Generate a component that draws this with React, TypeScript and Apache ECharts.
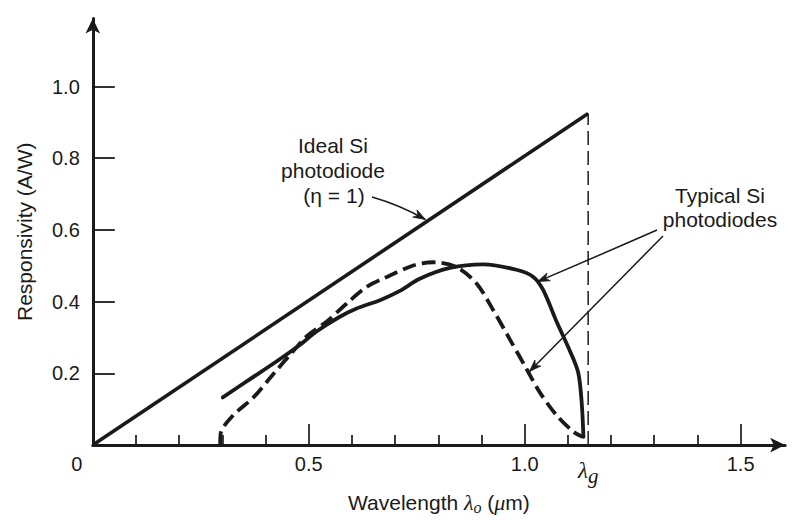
import React, { useEffect, useRef } from "react";
import * as echarts from "echarts";

// ---- data ----
const lambdaG = 1.147;
const idealX = [0, 1.147];
const idealY = [0, 0.925];

const solidX = [0.301, 0.364, 0.426, 0.48, 0.518, 0.572, 0.611, 0.665, 0.711, 0.757, 0.827, 0.904, 0.981, 1.02, 1.043, 1.074, 1.105, 1.124, 1.132, 1.136];
const solidY = [0.133, 0.184, 0.234, 0.28, 0.317, 0.358, 0.381, 0.404, 0.43, 0.464, 0.494, 0.504, 0.489, 0.469, 0.432, 0.344, 0.262, 0.202, 0.119, 0.023];

const dashX = [0.295, 0.296, 0.325, 0.372, 0.418, 0.464, 0.495, 0.542, 0.588, 0.634, 0.681, 0.742, 0.788, 0.843, 0.889, 0.927, 0.966, 1.005, 1.035, 1.074, 1.113, 1.134];
const dashY = [0.0, 0.032, 0.083, 0.133, 0.198, 0.262, 0.303, 0.345, 0.395, 0.441, 0.469, 0.501, 0.51, 0.496, 0.45, 0.377, 0.294, 0.211, 0.147, 0.083, 0.037, 0.023];

const xMinorTicks = [0.1, 0.2, 0.3, 0.4, 0.6, 0.7, 0.8, 0.9, 1.1, 1.2, 1.3, 1.4];
const xMajorTicks = [0.5, 1.0, 1.5];
const xLabelValues = [0, 0.5, 1.0, lambdaG, 1.5];
const yTickValues = [0.2, 0.4, 0.6, 0.8, 1.0];

const ink = "#1a1a1a";
const sans = '"Liberation Sans", Arial, sans-serif';
const serif = '"Liberation Serif", "Times New Roman", serif';

const zip = (xs: number[], ys: number[]) => xs.map((x, i) => [x, ys[i]]);

export default function App() {
  const ref = useRef<HTMLDivElement>(null);

  useEffect(() => {
    if (!ref.current) return;
    const chart = echarts.init(ref.current, null, { renderer: "svg" });

    const option: any = {
      animation: false,
      backgroundColor: "#ffffff",
      grid: { left: 92.8, top: 18.4, width: 692.3, bottom: 70, containLabel: false },
      xAxis: [
        {
          type: "value",
          min: 0,
          max: 1.603,
          position: "bottom",
          splitLine: { show: false },
          axisLine: {
            show: true,
            symbol: ["none", "arrow"],
            symbolSize: [11, 15],
            lineStyle: { color: ink, width: 3 },
          },
          axisTick: {
            show: true,
            inside: true,
            length: 10,
            customValues: xMinorTicks,
            lineStyle: { color: ink, width: 1.7 },
          },
          axisLabel: {
            customValues: xLabelValues,
            margin: 9,
            color: ink,
            fontFamily: sans,
            fontSize: 20,
            formatter: (v: number) => {
              if (Math.abs(v - lambdaG) < 1e-6) return "{l|λ}{g|g}";
              if (v === 0) return "{z|0}";
              return v.toFixed(1);
            },
            rich: {
              z: { fontFamily: sans, fontSize: 20, color: ink, padding: [0, 32, 0, 0] },
              l: { fontFamily: serif, fontStyle: "italic", fontSize: 23, color: ink },
              g: { fontFamily: serif, fontStyle: "italic", fontSize: 21, color: ink, padding: [11, 0, 0, 0] },
            },
          },
          name: "{a|Wavelength }{i|λ}{s|o}{a| (}{i|μ}{a|m)}",
          nameLocation: "middle",
          nameGap: 38,
          nameTextStyle: {
            rich: {
              a: { fontFamily: sans, fontSize: 21, color: ink },
              i: { fontFamily: serif, fontStyle: "italic", fontSize: 22, color: ink },
              s: { fontFamily: serif, fontStyle: "italic", fontSize: 16, color: ink, padding: [10, 0, 0, 0] },
            },
          },
        },
        {
          type: "value",
          min: 0,
          max: 1.603,
          position: "bottom",
          splitLine: { show: false },
          axisLine: { show: false },
          axisTick: {
            show: true,
            inside: true,
            length: 21,
            customValues: xMajorTicks,
            lineStyle: { color: ink, width: 1.7 },
          },
          axisLabel: { show: false },
        },
      ],
      yAxis: {
        type: "value",
        min: 0,
        max: 1.19,
        splitLine: { show: false },
        axisLine: {
          show: true,
          symbol: ["none", "arrow"],
          symbolSize: [11, 15],
          lineStyle: { color: ink, width: 3 },
        },
        axisTick: {
          show: true,
          inside: true,
          length: 22,
          customValues: yTickValues,
          lineStyle: { color: ink, width: 1.8 },
        },
        axisLabel: {
          customValues: yTickValues,
          margin: 13,
          color: ink,
          fontFamily: sans,
          fontSize: 20,
          formatter: (v: number) => v.toFixed(1),
        },
        name: "Responsivity (A/W)",
        nameLocation: "middle",
        nameGap: 58,
        nameTextStyle: { fontFamily: sans, fontSize: 21, color: ink },
      },
      series: [
        {
          name: "Ideal Si photodiode",
          type: "line",
          data: zip(idealX, idealY),
          symbol: "none",
          silent: true,
          lineStyle: { color: ink, width: 3.6 },
        },
        {
          name: "Typical Si photodiode (solid)",
          type: "line",
          data: zip(solidX, solidY),
          symbol: "none",
          smooth: 0.3,
          silent: true,
          lineStyle: { color: ink, width: 3.8, cap: "round" },
        },
        {
          name: "Typical Si photodiode (dashed)",
          type: "line",
          data: zip(dashX, dashY),
          symbol: "none",
          smooth: 0.3,
          silent: true,
          lineStyle: { color: ink, width: 3.8, type: [14, 6] },
        },
        {
          name: "lambda g",
          type: "line",
          data: [
            [lambdaG, 0],
            [lambdaG, idealY[1]],
          ],
          symbol: "none",
          silent: true,
          lineStyle: { color: ink, width: 1.5, type: [14, 6] },
        },
      ],
    };

    chart.setOption(option);

    const px = (x: number, y: number) => chart.convertToPixel({ gridIndex: 0 }, [x, y]) as number[];

    const arrowHead = (tail: number[], tip: number[]) => {
      const dx = tip[0] - tail[0];
      const dy = tip[1] - tail[1];
      const len = Math.sqrt(dx * dx + dy * dy) || 1;
      const ux = dx / len;
      const uy = dy / len;
      const nx = -uy;
      const ny = ux;
      const L = 12;
      const W = 4.2;
      return {
        type: "polygon",
        silent: true,
        shape: {
          points: [
            [tip[0], tip[1]],
            [tip[0] - ux * L + nx * W, tip[1] - uy * L + ny * W],
            [tip[0] - ux * L * 0.7, tip[1] - uy * L * 0.7],
            [tip[0] - ux * L - nx * W, tip[1] - uy * L - ny * W],
          ],
        },
        style: { fill: ink, stroke: ink, lineWidth: 0.8 },
      };
    };

    const arrow = (tail: number[], cp: number[], tip: number[]) => [
      {
        type: "bezierCurve",
        silent: true,
        shape: { x1: tail[0], y1: tail[1], x2: tip[0], y2: tip[1], cpx1: cp[0], cpy1: cp[1] },
        style: { stroke: ink, lineWidth: 1.5, fill: "none" },
      },
      arrowHead(cp, tip),
    ];

    const tip1 = px(0.77, 0.77 * idealY[1] / idealX[1]);
    const tip2 = px(1.03, 0.456);
    const tip3 = px(1.011, 0.205);

    const text = (t: string, x: number, y: number) => ({
      type: "text",
      silent: true,
      x,
      y,
      style: {
        text: t,
        align: "center",
        verticalAlign: "middle",
        font: `21px ${sans}`,
        fill: ink,
      },
    });

    chart.setOption({
      graphic: [
        text("Ideal Si", 333, 145),
        text("photodiode", 333, 170),
        text("(η = 1)", 334, 195),
        text("Typical Si", 720, 195),
        text("photodiodes", 720, 219),
        ...arrow([372, 197], [400, 205], [tip1[0], tip1[1] - 3]),
        ...arrow([657, 230], [600, 255], tip2),
        ...arrow([663, 236], [600, 300], tip3),
      ],
    });

    return () => chart.dispose();
  }, []);

  return (
    <div
      ref={ref}
      style={{ position: "fixed", left: 0, top: 0, width: 795, height: 520, background: "#fff" }}
    />
  );
}
